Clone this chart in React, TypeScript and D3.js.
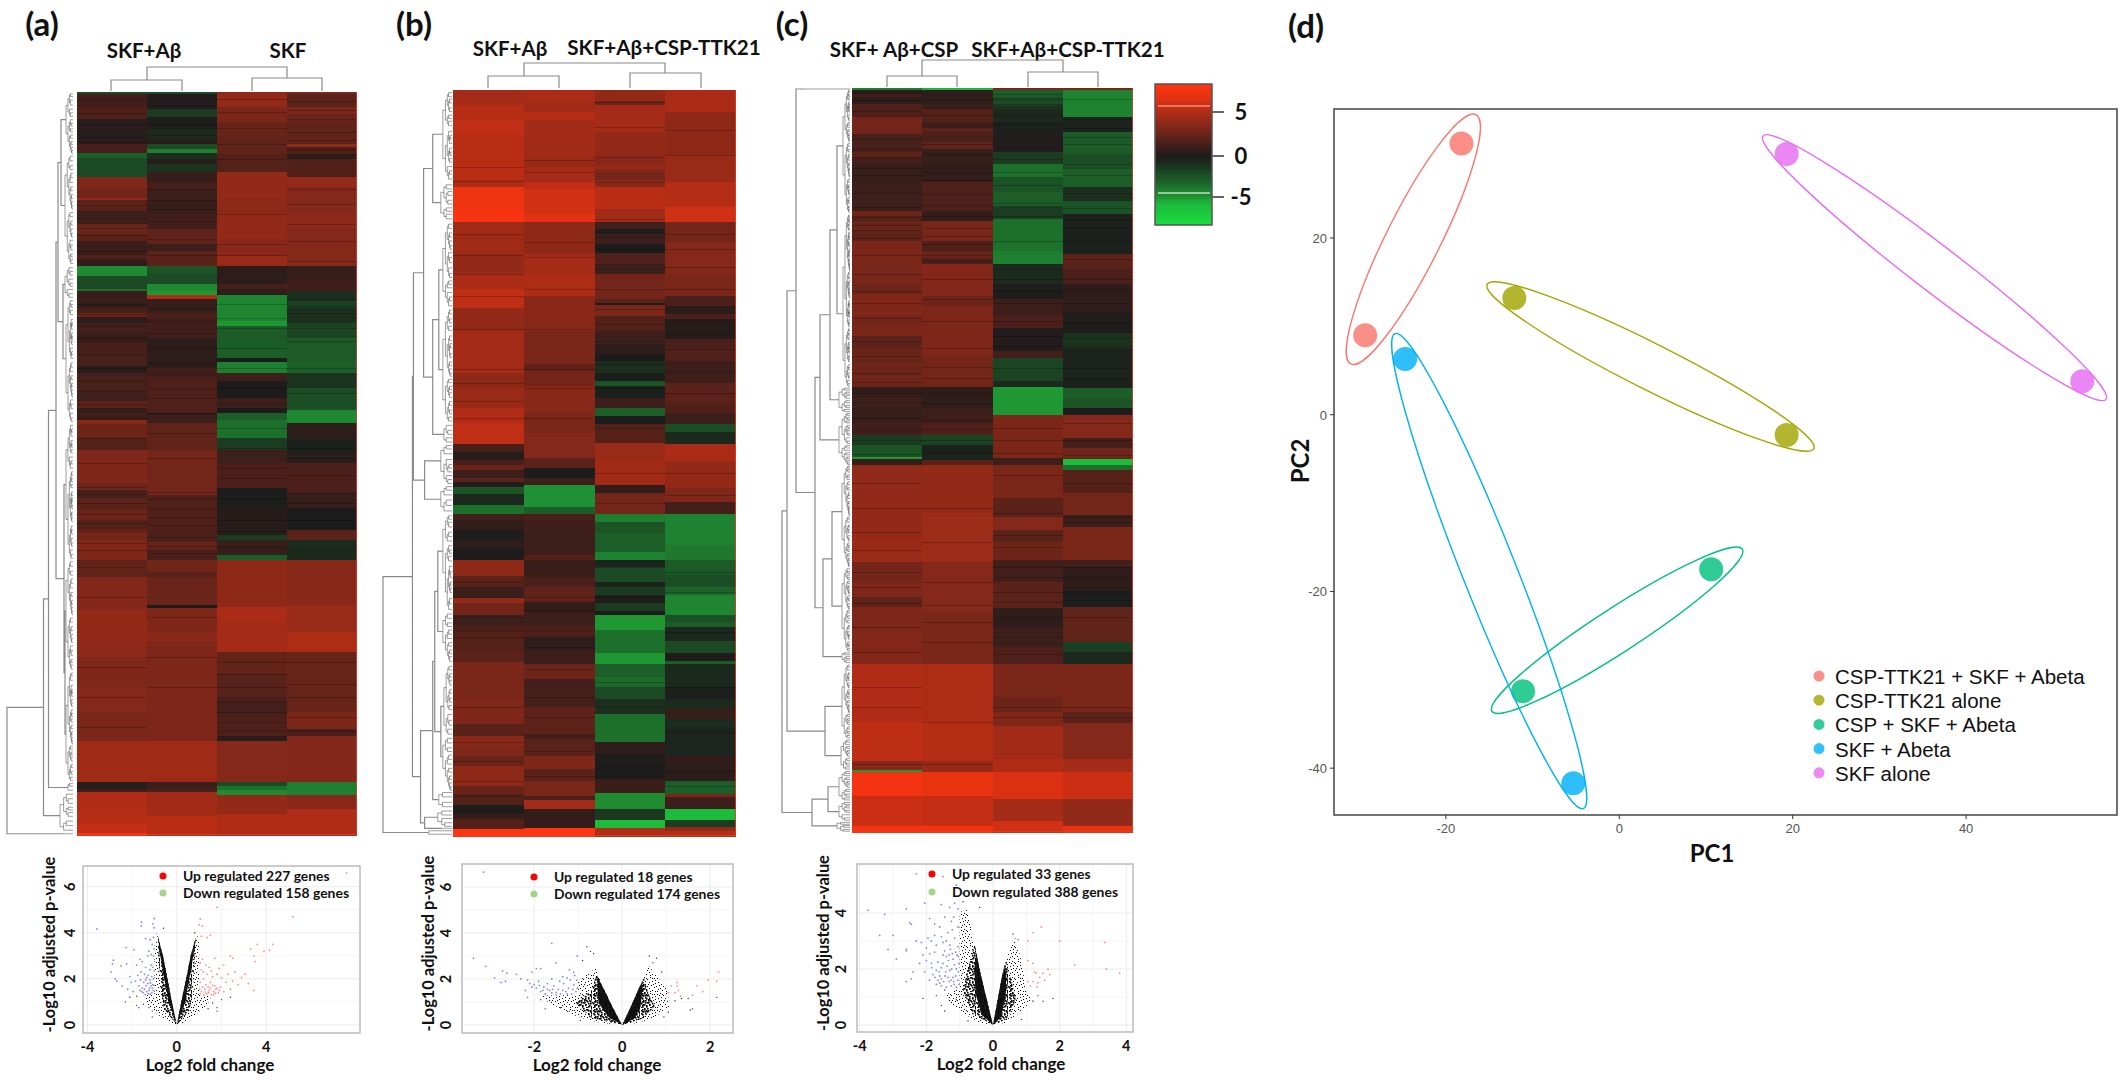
import React from "react";
import * as d3 from "d3";

type Band = [number, number];
const heatA: Band[][] = [
[[50,-2],[75,1.2],[100,1.6],[128,.4],[140,.2],[150,.5],[168,1.3],[178,-3],[215,-2],[240,3.2],[255,2.8],[262,4],[285,2],[310,1],[330,2.5],[345,2],[372,.9],[382,1.6],[395,.7],[415,-4.5],[440,-2],[445,-3.5],[460,.8],[470,1],[475,.2],[490,1.3],[497,2.5],[510,.5],[530,1.2],[550,.8],[595,1.4],[610,.4],[650,1.4],[665,1],[680,2],[690,.7],[705,1.1],[712,3.5],[740,2.6],[765,1.8],[830,3.2],[845,2.7],[860,1.4],[885,2],[905,2.6],[925,1.8],[945,2.8],[985,3.2],[1020,2.2],[1085,3.3],[1150,4],[1180,3.7],[1240,3.2],[1290,3.4],[1350,3],[1432,4.4],[1445,.4],[1452,1.2],[1490,5],[1515,5.2],[1533,5.6],[1538,7.5]],
[[50,-2],[80,.2],[95,-1.5],[120,.1],[140,-.8],[150,.3],[160,-2],[168,-4],[180,-1],[190,.3],[205,-1.2],[225,.8],[240,1.3],[270,1],[290,.8],[320,1.2],[350,2.2],[365,1],[395,2],[410,-2.5],[430,-2],[445,-4.5],[452,-5],[460,5],[490,.8],[500,1.5],[540,1.2],[600,.5],[620,1.2],[690,1.6],[695,.5],[710,1],[765,2.2],[855,2.8],[925,1.7],[950,1.5],[965,2.3],[985,1.5],[1010,2.7],[1020,2],[1075,2.5],[1082,0],[1130,3.2],[1150,3.6],[1350,3.1],[1432,4.4],[1445,1],[1452,1.5],[1500,4.5],[1538,5.3]],
[[75,4],[105,3],[135,2.4],[170,2.2],[205,1.8],[260,4],[290,3.7],[340,4],[375,3.6],[395,4.2],[430,.5],[440,1.3],[452,.6],[505,-4.3],[515,-5],[545,-2.8],[580,-3],[588,0],[610,-4],[625,1],[660,0],[680,1],[690,0],[705,-3],[740,-3.5],[765,-1.5],[790,1],[840,1.5],[880,-.1],[935,.3],[945,-1.5],[975,.8],[985,-3],[1080,3.8],[1110,4.8],[1170,4.6],[1215,2.3],[1260,1.9],[1300,1.3],[1340,1.6],[1350,.4],[1432,3.4],[1440,-2],[1447,-3.5],[1457,-4.5],[1495,4],[1515,5],[1538,5]],
[[50,3],[75,2],[90,3],[105,2.5],[135,2.2],[150,2.2],[155,4],[170,1.6],[180,.5],[215,1.7],[235,4],[290,3.4],[320,3.7],[395,3.4],[420,.8],[445,1.1],[465,-1],[480,-1.6],[510,-1],[540,-1.8],[585,-2.8],[610,-3],[640,-1.2],[685,-2.2],[710,-4.4],[740,.5],[770,-.3],[790,.4],[850,1.5],[880,.8],[925,0],[945,2],[985,-.7],[1075,3.5],[1130,4.2],[1170,4.9],[1290,2.4],[1325,3],[1340,1.5],[1432,3.3],[1457,-4],[1485,3.5],[1538,5]],
];
const heatB: Band[][] = [
[[70,4.6],[100,5.2],[130,5.5],[220,5.3],[235,4.8],[280,7.2],[305,7.6],[370,4.4],[410,4],[440,4.8],[478,5.4],[525,4],[610,4.6],[640,3.8],[680,4.2],[710,5],[752,5.5],[767,1.4],[783,.4],[795,1.5],[805,2.5],[820,1],[828,2],[838,.2],[852,-2.5],[875,-.8],[892,-3.5],[905,1.2],[925,.7],[945,.1],[962,.5],[985,0],[1018,3.8],[1040,2],[1062,1],[1072,4],[1095,2.8],[1115,1],[1130,1.5],[1165,1.8],[1190,2],[1265,3],[1315,3.2],[1338,2],[1360,3.6],[1380,3.2],[1400,2.5],[1440,3.8],[1455,2.5],[1478,1.8],[1495,.1],[1505,.8],[1525,1.8],[1540,8]],
[[65,4.8],[85,4.5],[100,5.2],[175,4.5],[195,4.2],[225,4.6],[240,5.5],[290,6],[305,6.6],[370,3.8],[410,4.6],[455,4.9],[525,3.6],[590,3],[605,2.2],[635,2.8],[690,3.5],[730,3],[780,3.4],[800,2],[820,0],[835,1],[878,-4.8],[892,-3],[905,1.4],[925,1.1],[975,1],[985,1.8],[1020,.9],[1040,1.5],[1070,2.2],[1092,.7],[1115,1],[1140,1.5],[1165,.6],[1195,1],[1225,2.6],[1240,1.2],[1280,1.3],[1335,2.1],[1345,1.2],[1380,2],[1405,3.2],[1430,2],[1460,3],[1468,1.5],[1485,4.6],[1523,.7],[1540,8]],
[[62,4],[70,2.5],[125,4.6],[170,4],[190,3.6],[205,4],[220,2.8],[235,3.6],[280,5.3],[305,4.5],[320,1.2],[330,.1],[350,1],[368,0],[390,1.6],[410,1],[460,2.8],[468,2],[473,0],[495,3],[525,1.8],[550,1],[570,.5],[585,0],[610,-1],[625,-.1],[635,-2.5],[660,-.2],[680,1],[695,-3],[712,0],[750,1.8],[785,4.2],[835,4.5],[850,.7],[892,2.8],[908,-4],[930,-2.5],[968,-3],[985,-4.2],[1000,-.5],[1030,-2],[1040,-.4],[1055,-1.5],[1072,.1],[1088,-1.5],[1095,0],[1125,-5],[1172,-3.5],[1195,-5],[1220,-3],[1240,-3.4],[1265,-2],[1295,-1],[1350,-3.5],[1375,.6],[1395,.1],[1425,0],[1453,.9],[1485,-4.6],[1508,-1.4],[1523,-6],[1540,5]],
[[85,4.8],[170,3.8],[225,4.2],[275,5.2],[305,6],[345,2.8],[410,3.4],[455,3],[475,1.5],[490,.5],[500,1.5],[540,.3],[565,1.5],[585,1.7],[630,1],[670,2],[690,1.7],[712,1],[728,-2.2],[752,-.8],[785,4.8],[840,4],[868,3.2],[892,1.2],[955,-4.2],[985,-3.8],[1015,-2.8],[1040,-2.2],[1055,-3.2],[1095,-4.3],[1110,-2.3],[1120,-3],[1148,-.6],[1172,-2],[1188,.1],[1195,-3],[1240,-.8],[1265,-.2],[1285,-.8],[1305,.8],[1320,-.9],[1380,-.5],[1395,.7],[1430,.5],[1455,-3],[1462,3],[1485,1],[1508,-6],[1522,-1.5],[1530,4],[1540,5.2]],
];
const heatC: Band[][] = [
[[41,-4],[50,.4],[56,1.2],[70,.5],[95,1.6],[130,2.8],[165,1.4],[178,2],[190,1.2],[225,.8],[285,1],[295,2.6],[305,1.8],[325,2.4],[345,2.1],[390,3],[430,2.9],[450,2.6],[495,3.2],[515,2.8],[535,3],[560,2.1],[590,2.4],[638,2.6],[660,.7],[680,1],[710,.8],[735,1.2],[755,-1.5],[778,-2.5],[782,-5],[795,.8],[870,3.9],[940,4],[990,4.2],[1030,2.8],[1060,3.1],[1080,2.2],[1130,3.1],[1195,3.3],[1310,5],[1390,5.4],[1408,3.5],[1412,-5],[1460,7.4],[1520,5.8],[1532,7.6]],
[[41,-5.5],[70,.6],[80,1],[105,1.8],[118,1.2],[130,2],[145,1.4],[160,2.2],[190,.8],[225,.7],[285,1.6],[305,.7],[345,2.9],[365,1.6],[378,2.4],[390,1.6],[455,3.3],[475,2.6],[575,3.1],[638,2.8],[680,.6],[710,1],[735,1.6],[755,-1.8],[785,-.4],[795,2],[890,4],[990,4.3],[1090,3.4],[1195,3],[1310,4.9],[1390,5.2],[1412,4.1],[1460,7],[1520,5.6],[1532,7.5]],
[[41,3],[55,-3],[70,-2],[80,-1.4],[105,-.6],[130,-.3],[165,.2],[190,-1.5],[215,-3.5],[245,-2.4],[275,-3],[300,-1.5],[350,-3.5],[365,-3.6],[390,-4],[430,-.7],[460,.1],[495,1],[520,1.5],[565,.2],[580,1.2],[625,-1.8],[638,-.8],[695,-5],[780,3],[795,1],[860,3],[900,2],[925,3.4],[950,2],[985,2.6],[1030,1.2],[1082,2],[1120,.6],[1160,1],[1195,1.6],[1260,3],[1290,2.5],[1320,3.2],[1385,4.5],[1412,5],[1465,6.3],[1510,4.6],[1532,6]],
[[42,3],[95,-4.2],[125,-.4],[170,-2.8],[200,-2.2],[235,-3],[265,-1],[290,-2.4],[370,-.3],[400,2],[430,1.5],[490,.6],[530,.1],[560,-1.2],[640,-.4],[660,-3],[680,-2.5],[695,0],[740,3.4],[760,1.3],[782,2.6],[795,-6],[805,-3.5],[850,1.8],[895,2.8],[920,1],[985,3],[1000,1.2],[1045,.6],[1060,0],[1080,-.1],[1150,2.2],[1170,-1.6],[1195,-.6],[1290,3],[1312,2],[1385,3.4],[1412,4.6],[1465,5.8],[1520,3.9],[1532,7]],
];
// thin darker genes that run through the broader blocks (row index per column)
const thinA = [
  [62,88,112,145,255,272,298,318,332,364,380,478,492,516,540,572,600,625,646,672,700,740,790,838,852,870,892,912,928,952,966,1000,1060,1200,1260,1320],
  [72,110,132,240,262,280,305,340,372,480,505,530,560,590,612,640,660,690,730,780,848,862,880,898,915,940,958,972,1100,1180,1240],
  [60,85,118,150,180,290,350,372,470,500,520,560,600,640,670,720,760,800,820,860,905,928,960,1190,1215,1240,1270,1290,1310,1330],
  [64,82,100,125,142,160,240,270,310,345,385,460,475,490,520,545,600,650,760,780,815,850,870,905,965,1190,1235,1260,1300,1330],
];
const thinB = [
  [195,222,330,372,410,455,520,600,630,665,700,1030,1060,1100,1140,1280,1350,1390,1430,1460],
  [180,205,345,375,440,520,600,640,700,1060,1085,1160,1205,1260,1300,1370,1420],
  [64,115,175,200,225,300,335,360,400,440,480,510,545,590,640,720,810,870,1000,1060,1230,1280],
  [120,170,330,360,395,440,505,530,560,605,650,810,855,1010,1050,1130,1240,1330,1410,1440],
];
const thinC = [
  [48,62,84,140,160,176,198,212,248,276,296,312,322,338,372,410,444,470,500,545,575,610,628,650,668,700,725,745,772,830,880,930,965,1010,1040,1072,1120,1170,1240,1280,1395],
  [60,78,92,112,125,150,170,205,222,250,272,295,318,335,350,372,385,420,460,505,560,598,620,650,670,705,722,745,768,880,950,1030,1075,1110,1150,1310,1395],
  [50,60,75,92,110,155,180,205,232,268,295,345,400,420,445,470,505,535,555,600,720,745,770,815,890,935,960,1000,1020,1050,1070,1100,1140,1175,1280,1300],
  [60,100,118,135,150,190,212,248,278,300,318,345,380,420,440,470,510,540,555,600,622,710,745,775,830,900,910,1000,1020,1040,1065,1100,1280,1300],
];

const downA = [[-3.58,4.17],[-1.58,4.46],[-1.6,4.3],[-1.01,4.62],[-1.07,4.39],[-1.02,4.22],[-2.27,3.36],[-1.91,3.26],[-2.84,2.81],[-2.88,2.65],[-2.5,2.56],[-2.95,2.3],[-2.75,2],[-2.68,1.9],[-2.45,1.7],[-2.1,2.1],[-2.05,1.85],[-2.2,1.55],[-1.95,1.45],[-1.8,2.6],[-1.65,2.85],[-1.55,2.75],[-1.4,2.5],[-1.6,2.3],[-1.45,2.2],[-1.2,2.4],[-1.15,2.6],[-1.3,3],[-1.05,3],[-1.2,3.7],[-1.4,3.75],[-1.05,3.8],[-1.1,3.5],[-1.5,1.4],[-1.42,1.32],[-1.35,1.45],[-1.28,1.36],[-1.2,1.34],[-1.12,1.4],[-1.05,1.5],[-1.08,1.75],[-1.15,1.7],[-1.22,1.6],[-1.3,1.8],[-1.38,1.7],[-1.48,1.85],[-1.55,1.6],[-1.62,1.95],[-1.7,1.7],[-1.05,2],[-1.12,2.1],[-1.2,1.95],[-1.28,2.15],[-1.35,2.05],[-1.02,2.35],[-1.08,2.5],[-1.75,2.15],[-1.85,1.9],[-2.25,2.65],[-1.25,3.2],[-1.45,1.55],[-1.25,1.5],[-1.1,1.6],[-1.18,1.82],[-1.02,1.72],[-1.4,1.95],[-1.58,1.45],[-1.65,1.5],[-1.02,3.3],[-1.15,3.05]];
const upA = [[7.6,6.6],[1.8,5.1],[5.2,4.7],[1.05,4.6],[1,4.35],[1.15,4.3],[1.5,3.9],[1.35,3.8],[1.1,3.85],[4.3,3.5],[3.6,3.5],[3.9,3.2],[4.15,3.25],[3.3,3.3],[3.45,3],[3.5,2.75],[2.4,3],[2.5,2.9],[1.7,2.9],[1.15,2.85],[1.05,2.7],[1.3,2.6],[1.45,2.5],[1.1,2.4],[1.9,2.45],[2.1,2.6],[2.3,2.2],[2.6,2.3],[2.9,2.05],[3.05,2.2],[3.2,1.8],[3.45,1.5],[2.75,1.75],[2.5,1.9],[2.2,1.85],[2,2.05],[1.8,2.2],[1.6,2.1],[1.35,2.2],[1.2,2],[1.05,1.85],[1.3,1.75],[1.5,1.85],[1.7,1.7],[1.95,1.65],[2.1,1.45],[1.85,1.4],[1.65,1.45],[1.45,1.5],[1.25,1.55],[1.1,1.45],[1.35,1.35],[1.55,1.32],[1.75,1.55],[1.9,1.5],[2.4,1.55],[1.05,1.35],[1.2,1.3],[1.5,1.6],[1.65,1.3],[1.4,1.65],[1.15,1.65],[1.6,1.72],[1.8,1.6],[1.28,1.42],[1.42,1.4],[1.72,1.38],[1.02,1.55],[1.18,2.3],[1.55,2.35]];
const otherA = [[-2.3,1],[-2.1,1.2],[-1.8,1.25],[-1.8,.85],[-1.7,.75],[-1.1,.35],[2.4,1.2],[1.8,.75],[1.8,.6],[2,1.1],[-1.5,.9],[-1.1,.6],[1.4,.7],[1.6,.95],[-1.25,.75],[-.6,4.2],[.8,4]];
const downB = [[-3.15,6.65],[-1.6,3.55],[-3.38,2.9],[-3.1,2.55],[-2.9,2.05],[-2.72,2.35],[-2.62,2.25],[-2.75,1.85],[-2.65,1.9],[-2.4,2.2],[-2.3,2],[-2.15,1.95],[-2.05,2.3],[-1.95,2.45],[-1.85,2.45],[-1.5,2.7],[-1.2,2.4],[-1.25,2.05],[-1.1,2.3],[-1.02,3],[-2.1,1.8],[-2.05,1.65],[-1.95,1.6],[-1.85,1.45],[-1.78,1.65],[-1.7,1.8],[-1.65,1.5],[-1.6,1.4],[-1.55,1.7],[-1.45,1.55],[-1.4,1.35],[-1.33,1.8],[-1.28,1.45],[-1.22,1.6],[-1.15,1.35],[-1.1,1.75],[-1.05,1.45],[-1.03,1.95],[-1.5,1.3],[-1.75,1.35],[-1.9,1.9],[-2.2,1.5],[-2.15,1.2],[-1.35,2.1],[-1.18,1.95],[-1.08,2.15],[-1.6,2],[-1.42,1.9],[-1.7,1.55],[-1.58,1.55],[-1.35,1.5],[-1.25,1.35],[-1.12,1.55],[-1.02,1.6],[-1.5,1.42],[-1.8,1.5],[-2,1.75],[-1.88,1.72]];
const upB = [[1.05,1.4],[1.12,1.7],[1.2,1.4],[1.25,1.85],[1.28,1.5],[1.33,1.25],[1.6,1.3],[1.7,1.7],[1.83,1.45],[1.95,1.95],[2.15,1.9],[2.2,2.3],[1.25,1.7]];
const otherB = [[-.8,3.4],[-.72,3.2],[-.9,2.8],[-.65,3.1],[.62,3],[.78,2.9],[.7,2.7],[.9,2.3],[-1.75,.7],[-1.4,.75],[-1.2,.6],[-1.85,1.1],[2.15,1.2],[1.6,.7],[1.55,.65],[1.35,1.15],[1.2,1.05],[1.5,1.15],[-.95,.2],[.95,.35],[1.05,.55]];
const downC = [[-2.3,5.4],[-1.5,5.3],[-1.1,5],[-.9,4.7],[-3.75,4.1],[-3.25,3.95],[-2.6,4.15],[-2.05,4.35],[-2.5,3.65],[-2.45,3.6],[-1.55,4.3],[-1.3,4.2],[-1.15,4.35],[-1.05,4.15],[-1.9,3.8],[-1.75,3.6],[-1.45,3.85],[-1.25,3.7],[-3.4,3.2],[-3,3.2],[-3.15,2.7],[-2.9,2.35],[-2.6,2.7],[-2.6,2.65],[-2.3,3],[-2.15,2.95],[-2.1,2.5],[-1.95,3.1],[-1.75,3.2],[-1.55,3.15],[-1.35,3.3],[-1.15,3.1],[-2.2,2.2],[-2.4,1.9],[-2.45,1.65],[-2.6,1.55],[-2.05,1.9],[-1.85,2.2],[-1.8,1.8],[-1.7,1.95],[-1.65,2.25],[-1.55,1.65],[-1.5,2.5],[-1.42,1.9],[-1.38,2.1],[-1.32,1.55],[-1.28,2.7],[-1.24,2],[-1.2,2.35],[-1.16,1.45],[-1.12,1.75],[-1.08,2.5],[-1.04,1.9],[-1.02,2.2],[-1.7,1.45],[-1.55,1.4],[-1.4,1.35],[-1.25,1.4],[-1.1,1.35],[-1.9,1.6],[-1.6,1.75],[-1.45,2.65],[-1.3,2.85],[-1.2,1.7],[-1.35,1.7],[-1.75,2.6],[-1.05,2.8],[-1.12,2.6],[-1.5,2.95],[-2,2.75],[-1.65,1.6],[-1.6,1.5],[-1.48,1.55],[-1.44,1.75],[-1.3,1.95],[-1.26,1.6],[-1.18,1.55],[-1.06,1.6],[-1.02,1.45],[-1.1,2],[-1.16,2.15],[-1.34,2.3],[-1.4,2.45],[-1.22,2.55],[-1.04,2.45],[-1.55,2.05],[-1.62,1.9],[-1.74,1.7],[-1.84,2.05],[-2,2.3],[-1.9,2.55],[-1.7,2.85],[-1.4,3],[-1.22,3.4],[-1.6,3.5],[-1.05,3.5],[-1.85,3],[-1.18,3.85],[-1.32,2.5],[-1.5,2.2]];
const upC = [[1.45,3.5],[1.2,3.3],[1.05,3],[2,3],[3.35,2.95],[2.45,2.15],[3.4,2],[3.8,1.85],[1.05,2.3],[1.2,2.2],[1.25,1.9],[1.3,1.85],[1.5,1.85],[1.65,2],[1.7,1.8],[1.05,1.55],[1.12,1.4],[1.2,1.55],[1.35,1.5],[1.4,1.7],[1.55,1.6],[1.32,1.35]];
const otherC = [[-2.1,.95],[-1.7,1.05],[-1.45,1.25],[-1.55,.7],[-1.45,.5],[-1.1,.9],[1.8,.95],[1.35,1.05],[1.2,.85],[1.5,.85],[-.75,.15],[.85,.2],[-.4,4.2],[.6,3.25],[.75,3.05],[-.9,4.4]];

type Pt = number[];
const outerA: Pt[] = [[0,0],[-.22,1],[-.42,2],[-.62,3],[-.9,4],[-1,3.4],[-1,1.35],[-1.5,1.3],[-1.35,.9],[-.85,.45],[-.4,.12],[0,0],[.4,.12],[.85,.45],[1.35,.85],[1.55,1.25],[1,1.35],[1,3.6],[.9,3.95],[.62,3],[.42,2],[.2,1]];
const midA: Pt[] = [[0,0],[-.22,1],[-.42,2],[-.62,3],[-.85,3.85],[-.82,3],[-.72,1.6],[-.58,.7],[0,0],[.58,.65],[.72,1.5],[.8,3],[.85,3.8],[.62,3],[.42,2],[.2,1]];
const coreA: Pt[] = [[0,0],[-.22,1],[-.42,2],[-.62,3],[-.85,3.85],[-.74,3],[-.56,2],[-.36,1],[0,0],[.36,.95],[.56,2],[.74,3],[.85,3.8],[.62,3],[.42,2],[.2,1]];
const outerB: Pt[] = [[0,0],[-.25,.9],[-.45,1.7],[-.6,2.45],[-.8,2.2],[-1,1.9],[-1,1.3],[-1.9,1.28],[-1.6,.9],[-1,.35],[-.5,.1],[0,0],[.3,.07],[.7,.28],[1.1,.85],[1,1.6],[.75,2.2],[.6,2.6],[.4,1.7],[.2,.8]];
const midB: Pt[] = [[0,0],[-.2,.7],[-.4,1.5],[-.58,2.2],[-.7,1.5],[-1.05,.95],[-.7,.3],[0,0],[.45,.26],[.75,.8],[.6,1.35],[.5,2.05],[.38,1.6],[.2,.8]];
const coreB: Pt[] = [[0,0],[-.2,.7],[-.4,1.5],[-.56,2.1],[-.56,1.5],[-.52,.9],[-.3,.32],[0,0],[.28,.28],[.42,.8],[.46,1.5],[.46,1.9],[.38,1.6],[.2,.8]];
const outerC: Pt[] = [[0,0],[-.4,1.96],[-.6,3.15],[-.8,4.2],[-1,4],[-1,1.3],[-1.4,1.1],[-1.3,.8],[-.8,.35],[-.4,.08],[0,0],[.4,.08],[.8,.45],[1.2,.9],[1,1.2],[.85,2.3],[.65,3.2],[.5,2.7],[.28,1.8]];
const midC: Pt[] = [[0,0],[-.4,1.96],[-.55,2.9],[-.72,2.2],[-.9,1.25],[-.62,.4],[0,0],[.4,.2],[.7,.9],[.55,1.6],[.38,2.3],[.28,1.8]];
const coreC: Pt[] = [[0,0],[-.4,1.96],[-.5,2.6],[-.56,2],[-.52,1.1],[-.33,.36],[0,0],[.24,.3],[.38,1],[.4,1.8],[.36,2.1],[.28,1.8]];

const lateralTicks = { a: [-4,0,4], b: [-2,0,2], c: [-4,-2,0,2,4] };
const pValueTicks = { a: [0,2,4,6], b: [0,2,4,6], c: [0,2,4] };
const groupNames = ["CSP-TTK21 + SKF + Abeta","CSP-TTK21 alone","CSP + SKF + Abeta","SKF + Abeta","SKF alone"];
const groupColors = ["#f8766d","#a3a500","#00bf7d","#00b0f6","#e76bf3"];
const pc1 = [[-18.2,-29.3],[-12.1,19.3],[10.6,-11.1],[-24.7,-5.3],[19.3,53.4]];
const pc2 = [[30.7,9.0],[13.2,-2.3],[-17.5,-31.3],[6.3,-41.7],[29.5,3.8]];
const ellipseStretch = [1.3,1.2,1.33,1.12,1.16];
const ellipseWidth = [27,23,22,27,23];
const pcXTicks = [-20,0,20,40];
const pcYTicks = [-40,-20,0,20];

type Tree = any;
const n = (h: number, ...kids: Tree[]) => ({ h, kids });
const T = (a: number, b: number, h = 7) => ({ a, b, h });
const treeA = n(66, n(29.5, n(24.5, n(17, n(15, n(12, T(45,170,7), T(170,395,8)), n(10, T(395,460,8), T(460,710,7))), n(9, T(710,985,7), n(8, T(985,1210,7), T(1210,1432,7)))), T(1432,1452,5)), T(1452,1533,13)), T(1533,1538,10));
const treeB = n(68, n(39, n(38, n(28, n(19, T(40,225,9), T(225,305,11)), n(19, n(13, T(305,480,9), T(480,710,9)), T(710,752,8))), n(27, T(752,835,11), T(835,892,11))), n(31, n(19, n(17, n(14, T(892,1090,9), T(1090,1195,9)), n(11, T(1195,1340,8), T(1340,1450,9))), T(1450,1485,13)), n(27, T(1485,1523,14), T(1523,1526,10)))), T(1526,1540,23));
const treeC = n(68, n(63, n(54, T(37,41,44), n(35, n(30, n(20, n(13, T(41,290,7), T(290,638,7)), T(638,690,11)), T(690,795,11)), n(27, n(18, T(795,1000,8), T(1000,1170,8)), T(1170,1195,8)))), n(25, T(1195,1345,8), T(1345,1408,9))), n(38, n(22, T(1408,1470,11), T(1470,1510,11)), T(1510,1532,13)));

const heatScale = d3.scaleLinear<string>()
  .domain([-8,-5.5,-4.9,-4,-3,-2,-1,0,1,2,3,4,5,6.5,8])
  .range(["#1adc3e","#1cb53a","#1f9233","#1e7f30","#1c5e28","#1b4a24","#1c2e1e","#1c1c1c","#3c1e1a","#5a2219","#7a2619","#932a18","#b02c16","#e03212","#ff3410"]);
const lato = "Lato, 'Open Sans', sans-serif";
const arial = "'Liberation Sans', Arial, sans-serif";
const speckle = [[1,2],[4,1],[7,3],[10,1],[14,2],[2,6],[5,5],[9,6],[12,5],[15,7],[0,10],[3,9],[7,10],[11,9],[14,11],[2,13],[6,14],[9,12],[12,14],[15,15],[5,8],[8,8],[13,8],[1,15],[4,12],[10,15],[6,2],[12,2],[3,3],[15,4]];

function Heatmap({ data, thin, x0, x1, y0, y1, dom }: any) {
  const col = d3.scaleBand<number>().domain(data.map((_: any, i: number) => i)).range([x0, x1]);
  const row = d3.scaleLinear().domain(dom).range([y0, y1]);
  return (
    <g shapeRendering="crispEdges">
      {data.map((bands: Band[], i: number) => bands.map(([end, v], j) => {
        const start = j === 0 ? dom[0] : bands[j - 1][0];
        return <rect key={i + "-" + j} x={col(i)} width={col.bandwidth()} y={row(start)} height={row(end) - row(start) + 0.5} fill={heatScale(v)} />;
      }))}
      {thin.map((rows: number[], i: number) => rows.map(r => <rect key={i + "t" + r} x={col(i)} width={col.bandwidth()} y={row(r)} height={1} fill="#000" fillOpacity={0.22} />))}
      <path d={`M${x1 - 0.5},${y0}V${y1 - 0.5}H${x0}`} fill="none" stroke="#e0402a" strokeOpacity={0.75} />
    </g>
  );
}

function RowTree({ tree, right, left, y0, y1, dom, leafRows }: any) {
  const row = d3.scaleLinear().domain(dom).range([y0, y1]);
  const hx = d3.scaleLinear().domain([0, tree.h]).range([right, left]);
  const major = d3.path();
  const minor = d3.path();
  const splits = [0.42, 0.6, 0.35, 0.66, 0.5, 0.3, 0.55];
  let c = 0;
  const fan = (a: number, b: number, h: number, p: any): number => {
    if (b - a < leafRows) {
      const y = row((a + b) / 2);
      p.moveTo(hx(0), y); p.lineTo(hx(h), y);
      return y;
    }
    const m = a + (b - a) * splits[c++ % splits.length];
    const y1 = fan(a, m, h * 0.72, minor);
    const y2 = fan(m, b, h * 0.72, minor);
    const y = (y1 + y2) / 2;
    minor.moveTo(hx(h * 0.72), y1); minor.lineTo(hx(h), y1); minor.lineTo(hx(h), y2); minor.lineTo(hx(h * 0.72), y2);
    return y;
  };
  const walk = (node: any): [number, number] => {
    if (node.kids) {
      const [y1, h1] = walk(node.kids[0]);
      const [y2, h2] = walk(node.kids[1]);
      const x = hx(node.h);
      major.moveTo(hx(h1), y1); major.lineTo(x, y1); major.lineTo(x, y2); major.lineTo(hx(h2), y2);
      return [(y1 + y2) / 2, node.h];
    }
    return [fan(node.a, node.b, node.h, minor), node.h];
  };
  walk(tree);
  return <g fill="none"><path d={minor.toString()} stroke="#333" strokeWidth={0.6} strokeOpacity={0.8} /><path d={major.toString()} stroke="#8a8a8a" strokeWidth={1.2} /></g>;
}

function ColTree({ l, r, ly, ry, rl, rr, top, base }: any) {
  const p = d3.path();
  p.moveTo(l[0], base); p.lineTo(l[0], ly); p.lineTo(l[1], ly); p.lineTo(l[1], base);
  p.moveTo(r[0], base); p.lineTo(r[0], ry); p.lineTo(r[1], ry); p.lineTo(r[1], base);
  p.moveTo(rl, ly); p.lineTo(rl, top); p.lineTo(rr, top); p.lineTo(rr, ry);
  return <path d={p.toString()} fill="none" stroke="#8a8a8a" strokeWidth={1.2} />;
}

function Volcano({ id, box, xd, yd, xTicks, yTicks, outer, mid, core, down, up, other, upLabel, downLabel, legendX, legendY, yLabelX, titleX }: any) {
  const [L, R, Tp, B] = box;
  const x = d3.scaleLinear().domain(xd).range([L, R]);
  const y = d3.scaleLinear().domain(yd).range([B, Tp]);
  const line = d3.line<Pt>().x(d => x(d[0])).y(d => y(d[1])).curve(d3.curveLinearClosed);
  const xMinor = d3.range(xTicks.length - 1).map(i => (xTicks[i] + xTicks[i + 1]) / 2);
  const yMinor = d3.range(yTicks.length - 1).map(i => (yTicks[i] + yTicks[i + 1]) / 2);
  return (
    <g>
      <defs>
        <pattern id={id} width={16} height={16} patternUnits="userSpaceOnUse">
          {speckle.map((s, i) => <rect key={i} x={s[0]} y={s[1]} width={1} height={1} fill="#111" />)}
        </pattern>
        <pattern id={id + "d"} width={16} height={16} patternUnits="userSpaceOnUse">
          {speckle.map((s, i) => <rect key={i} x={s[0]} y={s[1]} width={1.6} height={1.6} fill="#000" />)}
          {speckle.map((s, i) => <rect key={"b" + i} x={s[1]} y={15 - s[0]} width={1.6} height={1.6} fill="#000" />)}
        </pattern>
      </defs>
      {xTicks.map((t: number) => <line key={t} x1={x(t)} x2={x(t)} y1={Tp} y2={B} stroke="#ececec" />)}
      {yTicks.map((t: number) => <line key={t} x1={L} x2={R} y1={y(t)} y2={y(t)} stroke="#ececec" />)}
      {xMinor.map((t: number) => <line key={t} x1={x(t)} x2={x(t)} y1={Tp} y2={B} stroke="#f5f5f5" />)}
      {yMinor.map((t: number) => <line key={t} x1={L} x2={R} y1={y(t)} y2={y(t)} stroke="#f5f5f5" />)}
      <path d={line(outer)!} fill={`url(#${id})`} />
      <path d={line(mid)!} fill={`url(#${id}d)`} />
      <path d={line(core)!} fill="#0c0c0c" fillOpacity={0.95} />
      {other.map((p: Pt, i: number) => <circle key={i} cx={x(p[0])} cy={y(p[1])} r={0.7} fill="#333" />)}
      {down.map((p: Pt, i: number) => <circle key={i} cx={x(p[0])} cy={y(p[1])} r={0.9} fill="#8585f5" />)}
      {up.map((p: Pt, i: number) => <circle key={i} cx={x(p[0])} cy={y(p[1])} r={0.9} fill="#fb8d8d" />)}
      <rect x={L} y={Tp} width={R - L} height={B - Tp} fill="none" stroke="#bcbcbc" strokeWidth={1.5} />
      {xTicks.map((t: number) => <text key={t} x={x(t)} y={B + 19} textAnchor="middle" fontFamily={lato} fontWeight={700} fontSize={14.5} fill="#111">{t}</text>)}
      {yTicks.map((t: number) => <text key={t} transform={`translate(${yLabelX},${y(t)}) rotate(-90)`} textAnchor="middle" fontFamily={lato} fontWeight={700} fontSize={14.5} fill="#111">{t}</text>)}
      <text x={titleX} y={B + 38} textAnchor="middle" fontFamily={lato} fontWeight={700} fontSize={17} fill="#111">Log2 fold change</text>
      <text transform={`translate(${L - 28},${(Tp + B) / 2 - 5}) rotate(-90)`} textAnchor="middle" fontFamily={lato} fontWeight={700} fontSize={16.4} fill="#111">-Log10 adjusted p-value</text>
      <circle cx={legendX} cy={legendY[0]} r={3.5} fill="#ff0000" />
      <circle cx={legendX} cy={legendY[1]} r={3.5} fill="#a3d48c" />
      <text x={legendX + 20} y={legendY[0] + 5} fontFamily={lato} fontWeight={700} fontSize={13.9} fill="#111">{upLabel}</text>
      <text x={legendX + 20} y={legendY[1] + 5} fontFamily={lato} fontWeight={700} fontSize={13.9} fill="#111">{downLabel}</text>
    </g>
  );
}

function PCA() {
  const x = d3.scaleLinear().domain([-32.9, 57.4]).range([1334, 2117]);
  const y = d3.scaleLinear().domain([-45.3, 34.6]).range([815, 109]);
  return (
    <g>
      <rect x={1334} y={109} width={783} height={706} fill="none" stroke="#444" strokeWidth={1.5} />
      {pcXTicks.map(t => <g key={t}><line x1={x(t)} x2={x(t)} y1={815} y2={819} stroke="#333" /><text x={x(t)} y={833} textAnchor="middle" fontFamily={arial} fontSize={13} fill="#555">{t}</text></g>)}
      {pcYTicks.map(t => <g key={t}><line x1={1330} x2={1334} y1={y(t)} y2={y(t)} stroke="#333" /><text x={1327} y={y(t) + 5} textAnchor="end" fontFamily={arial} fontSize={13} fill="#555">{t}</text></g>)}
      {groupNames.map((g, i) => {
        const [xa, xb] = pc1[i].map(v => x(v));
        const [ya, yb] = pc2[i].map(v => y(v));
        const cx = (xa + xb) / 2, cy = (ya + yb) / 2;
        const rx = Math.hypot(xb - xa, yb - ya) / 2 * ellipseStretch[i];
        const ang = Math.atan2(yb - ya, xb - xa) * 180 / Math.PI;
        return (
          <g key={g}>
            <ellipse cx={cx} cy={cy} rx={rx} ry={ellipseWidth[i]} transform={`rotate(${ang} ${cx} ${cy})`} fill="none" stroke={groupColors[i]} strokeWidth={1.4} />
            <circle cx={xa} cy={ya} r={12} fill={groupColors[i]} fillOpacity={0.82} />
            <circle cx={xb} cy={yb} r={12} fill={groupColors[i]} fillOpacity={0.82} />
          </g>
        );
      })}
      {groupNames.map((g, i) => (
        <g key={g}>
          <circle cx={1819} cy={676 + i * 24.2} r={5.5} fill={groupColors[i]} fillOpacity={0.8} />
          <text x={1835} y={684 + i * 24.2} fontFamily={arial} fontSize={20.5} fill="#111">{g}</text>
        </g>
      ))}
      <text x={1712} y={862} textAnchor="middle" fontFamily={lato} fontWeight={700} fontSize={24} fill="#111">PC1</text>
      <text transform="translate(1309,461) rotate(-90)" textAnchor="middle" fontFamily={lato} fontWeight={700} fontSize={24} fill="#111">PC2</text>
    </g>
  );
}

function ColorBar() {
  const v = d3.scaleLinear().domain([84, 156, 225]).range([8.2, 0, -8.2]);
  const stops = d3.range(84, 226, 3);
  return (
    <g>
      <defs>
        <linearGradient id="cbar" x1="0" x2="0" y1="0" y2="1">
          {stops.map(s => <stop key={s} offset={(s - 84) / 141} stopColor={heatScale(v(s))} />)}
        </linearGradient>
      </defs>
      <rect x={1155} y={84} width={57} height={141} fill="url(#cbar)" stroke="#555" strokeWidth={1.5} />
      <line x1={1158} x2={1210} y1={106} y2={106} stroke="#f08a70" strokeWidth={2} strokeOpacity={0.8} />
      <line x1={1158} x2={1210} y1={193} y2={193} stroke="#b8e0bc" strokeWidth={1.5} />
      {[[5,112],[0,156],[-5,197]].map(([t, yy]) => (
        <g key={t}>
          <line x1={1212} x2={1224} y1={yy} y2={yy} stroke="#666" strokeWidth={2} />
          <text x={1241} y={yy + 8} textAnchor="middle" fontFamily={lato} fontWeight={700} fontSize={22} fill="#111">{t}</text>
        </g>
      ))}
    </g>
  );
}

const Label = ({ x, y, s, t }: any) => <text x={x} y={y} textAnchor="middle" fontFamily={lato} fontWeight={700} fontSize={s} fill="#111">{t}</text>;

export default function App() {
  return (
    <svg width={2128} height={1081} style={{ position: "absolute", left: 0, top: 0, background: "#fff" }}>
      <Label x={42} y={36} s={33} t="(a)" />
      <Label x={414} y={36} s={33} t="(b)" />
      <Label x={792} y={36} s={33} t="(c)" />
      <Label x={1306} y={38} s={33} t="(d)" />
      <Label x={144} y={58} s={20.5} t="SKF+Aβ" />
      <Label x={288} y={58} s={20.5} t="SKF" />
      <Label x={510} y={56} s={20.5} t="SKF+Aβ" />
      <Label x={664} y={55} s={20.6} t="SKF+Aβ+CSP-TTK21" />
      <Label x={894} y={57} s={20.5} t="SKF+ Aβ+CSP" />
      <Label x={1068} y={57} s={20.6} t="SKF+Aβ+CSP-TTK21" />

      <ColTree l={[111,182]} r={[252,322]} ly={80} ry={78} rl={147} rr={287} top={67} base={91} />
      <ColTree l={[488,559]} r={[630,701]} ly={76} ry={73} rl={524} rr={665} top={63} base={88} />
      <ColTree l={[887,957]} r={[1028,1098]} ly={76} ry={72} rl={922} rr={1063} top={60} base={87} />

      <Heatmap data={heatA} thin={thinA} x0={77} x1={357} y0={92} y1={835} dom={[45,1538]} />
      <Heatmap data={heatB} thin={thinB} x0={453} x1={736} y0={90} y1={836} dom={[40,1540]} />
      <Heatmap data={heatC} thin={thinC} x0={852} x1={1133} y0={88} y1={832} dom={[37,1532]} />
      <RowTree tree={treeA} right={73} left={7} y0={92} y1={835} dom={[45,1538]} leafRows={11} />
      <RowTree tree={treeB} right={452} left={383} y0={90} y1={836} dom={[40,1540]} leafRows={13} />
      <RowTree tree={treeC} right={850} left={782} y0={88} y1={832} dom={[37,1532]} leafRows={7} />

      <ColorBar />

      <Volcano id="sa" box={[83,360,866,1033]} xd={[-4.2,8.2]} yd={[-.35,6.9]} xTicks={lateralTicks.a} yTicks={pValueTicks.a} outer={outerA} mid={midA} core={coreA} down={downA} up={upA} other={otherA} upLabel="Up regulated 227 genes" downLabel="Down regulated 158 genes" legendX={163} legendY={[876,893]} yLabelX={75} titleX={210} />
      <Volcano id="sb" box={[462,733,864,1033]} xd={[-3.64,2.52]} yd={[-.35,7]} xTicks={lateralTicks.b} yTicks={pValueTicks.b} outer={outerB} mid={midB} core={coreB} down={downB} up={upB} other={otherB} upLabel="Up regulated 18 genes" downLabel="Down regulated 174 genes" legendX={534} legendY={[877,894]} yLabelX={451} titleX={597} />
      <Volcano id="sc" box={[857,1133,864,1032]} xd={[-4.08,4.2]} yd={[-.25,5.75]} xTicks={lateralTicks.c} yTicks={pValueTicks.c} outer={outerC} mid={midC} core={coreC} down={downC} up={upC} other={otherC} upLabel="Up regulated 33 genes" downLabel="Down regulated 388 genes" legendX={932} legendY={[874,892]} yLabelX={846} titleX={1001} />

      <PCA />
    </svg>
  );
}
